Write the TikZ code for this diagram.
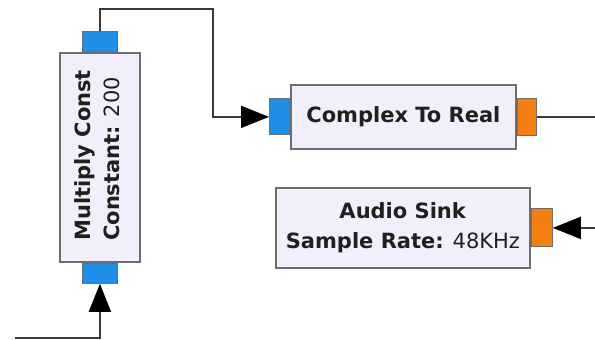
\documentclass[tikz,border=0pt]{standalone}
\usepackage{fontspec}
\setmainfont{DejaVu Sans}
\usetikzlibrary{arrows.meta}
\definecolor{blockfill}{HTML}{F1EFFB}
\definecolor{blockdraw}{HTML}{6E6E6E}
\definecolor{portblue}{HTML}{1E8FE6}
\definecolor{portorange}{HTML}{F38010}
\definecolor{wire}{HTML}{3A3A3A}
\tikzset{
  block/.style={draw=blockdraw, fill=blockfill, line width=1.8pt, inner sep=0pt},
  inport/.style={draw=blockdraw, fill=portblue, line width=1pt, inner sep=0pt},
  outport/.style={draw=blockdraw, fill=portorange, line width=1pt, inner sep=0pt},
  conn/.style={draw=wire, line width=1.8pt},
  tip/.style={-{Triangle[length=28pt,width=22pt,fill=black,color=black]}},
  lbl/.style={font=\fontsize{21}{30}\selectfont, text=black!88, align=center}
}
\begin{document}
\begin{tikzpicture}[x=1pt,y=-1pt]
\useasboundingbox (0,0) rectangle (595,340);
% Multiply Const
\node[block, minimum width=80pt, minimum height=209pt, anchor=north west] (mc) at (59,52) {};
\node[inport, minimum width=35pt, minimum height=20pt, anchor=south] (mcout) at (mc.north) {};
\node[inport, minimum width=35pt, minimum height=20pt, anchor=north] (mcin) at (mc.south) {};
\node[lbl, font=\fontsize{21}{29}\selectfont, align=left, rotate=90] (mctext) at ([xshift=-3pt,yshift=2pt]mc.center) {\textbf{Multiply Const}\\\textbf{Constant:} 200};
% Complex To Real
\node[block, minimum width=225pt, minimum height=64pt, anchor=north west] (ctr) at (290,84) {};
\node[inport, minimum width=20pt, minimum height=36pt, anchor=east] (ctrin) at (ctr.west) {};
\node[outport, minimum width=19pt, minimum height=37pt, anchor=west] (ctrout) at (ctr.east) {};
\node[lbl] (ctrtext) at (ctr.center) {\textbf{Complex To Real}};
% Audio Sink
\node[block, minimum width=254pt, minimum height=80pt, anchor=north west] (as) at (275,187) {};
\node[outport, minimum width=21pt, minimum height=38pt, anchor=west] (asin) at (as.east) {};
\node[lbl] (astext) at (as.center) {\textbf{Audio Sink}\\\textbf{Sample Rate:} 48KHz};
% bend and free ends
\coordinate (bend) at (213,9);
\coordinate (srcL) at (15,338);
\coordinate (outR) at (595,115);
\coordinate (inR) at (595,237);
% connectors
\draw[conn, tip] (mcout.north) |- (bend) |- (ctrin.west);
\draw[conn] (ctrout.east) -- (ctrout.east -| outR);
\draw[conn, tip] (asin.east -| inR) -- (asin.east);
\draw[conn, tip] (srcL) -| (mcin.south);
\end{tikzpicture}
\end{document}
